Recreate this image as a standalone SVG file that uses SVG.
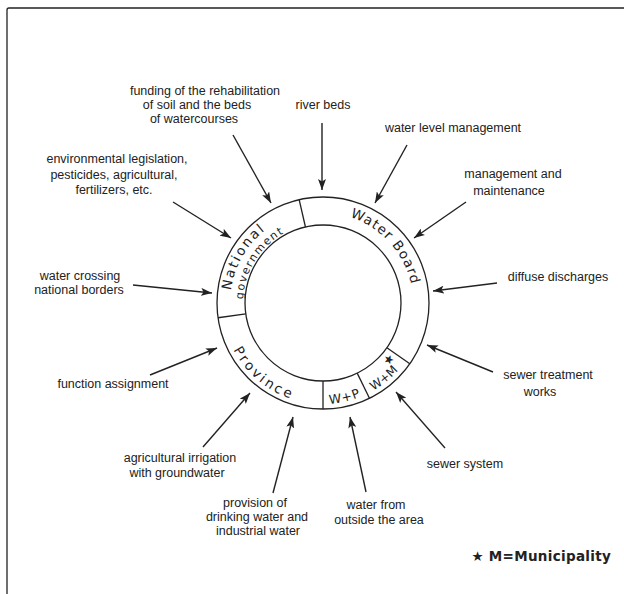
<svg xmlns="http://www.w3.org/2000/svg" width="624" height="594" viewBox="0 0 624 594">
<style>
.lbl{font-family:"Liberation Sans",Arial,sans-serif;font-size:12.5px;fill:#222;text-anchor:middle}
.ring{font-family:"DejaVu Sans","Liberation Sans",sans-serif;fill:#222}
.ln{stroke:#222;stroke-width:1.3;fill:none}
.arr{stroke:#222;stroke-width:1.4;fill:none;marker-end:url(#ah)}
</style>
<defs>
<marker id="ah" markerUnits="userSpaceOnUse" markerWidth="11" markerHeight="8" refX="11" refY="4" orient="auto">
<path d="M0,0 L11,4 L0,8 L2.5,4 z" fill="#222"/>
</marker>
<path id="pNat" d="M235.61,334.81 A93,93 0 0 1 306.85,211.41"/>
<path id="pGov" d="M247.82,330.36 A80,80 0 0 1 309.11,224.22"/>
<path id="pWB" d="M319.86,213.05 A90,90 0 0 1 412.13,315.53"/>
<path id="pProv" d="M222,303 A101,101 0 0 0 340.54,402.47"/>
<path id="pWP" d="M293.47,399.59 A101,101 0 0 0 391.88,376.87"/>
<path id="pWM" d="M338.80,402.76 A101,101 0 0 0 417.29,339.20"/>
</defs>
<rect width="624" height="594" fill="#fff"/>
<g id="frame">
<path class="ln" d="M7,594 L7,10 Q7,8 9,8 L624,8"/>
</g>
<g id="ring">
<circle class="ln" cx="323" cy="303" r="106"/>
<circle class="ln" cx="323" cy="303" r="78"/>
<line class="ln" x1="305.45" y1="227" x2="299.15" y2="199.71"/>
<line class="ln" x1="245.76" y1="313.86" x2="218.03" y2="317.75"/>
<line class="ln" x1="323" y1="381" x2="323" y2="409"/>
<line class="ln" x1="357.2" y1="373.11" x2="369.47" y2="398.27"/>
<line class="ln" x1="386.9" y1="347.74" x2="409.83" y2="363.8"/>
</g>
<g id="national-government">
<text class="ring" font-size="13.5" letter-spacing="2"><textPath href="#pNat" startOffset="50%" text-anchor="middle">National</textPath></text>
<text class="ring" font-size="11" letter-spacing="1.5"><textPath href="#pGov" startOffset="52%" text-anchor="middle">government</textPath></text>
</g>
<g id="water-board">
<text class="ring" font-size="13.5" letter-spacing="1.1"><textPath href="#pWB" startOffset="50%" text-anchor="middle">Water Board</textPath></text>
</g>
<g id="province">
<text class="ring" font-size="13.5" letter-spacing="2.7"><textPath href="#pProv" startOffset="50%" text-anchor="middle">Province</textPath></text>
</g>
<g id="w-p">
<text class="ring" font-size="12.5" letter-spacing="0.8"><textPath href="#pWP" startOffset="50%" text-anchor="middle">W+P</textPath></text>
</g>
<g id="w-m">
<text class="ring" font-size="12"><textPath href="#pWM" startOffset="50%" text-anchor="middle">W+M</textPath></text>
<text class="ring" font-size="12" text-anchor="middle" transform="translate(392,362) rotate(-51)">★</text>
</g>
<g id="connectors">
<line class="arr" x1="233" y1="135" x2="271" y2="203"/>
<line class="arr" x1="322" y1="123" x2="322" y2="190"/>
<line class="arr" x1="407" y1="145" x2="375" y2="203"/>
<line class="arr" x1="466" y1="202" x2="414" y2="238"/>
<line class="arr" x1="497" y1="283" x2="433" y2="291"/>
<line class="arr" x1="493" y1="372" x2="427" y2="345"/>
<line class="arr" x1="445" y1="448" x2="396" y2="392"/>
<line class="arr" x1="366" y1="492" x2="350" y2="417"/>
<line class="arr" x1="273" y1="493" x2="293" y2="417"/>
<line class="arr" x1="203" y1="447" x2="250" y2="393"/>
<line class="arr" x1="150" y1="375" x2="217" y2="348"/>
<line class="arr" x1="133" y1="285" x2="212" y2="293"/>
<line class="arr" x1="173" y1="202" x2="231" y2="238"/>
</g>
<g id="funding">
<text class="lbl" x="205" y="95">funding of the rehabilitation</text>
<text class="lbl" x="197" y="109">of soil  and the beds</text>
<text class="lbl" x="194" y="123">of watercourses</text>
</g>
<g id="river-beds"><text class="lbl" x="323" y="109">river beds</text></g>
<g id="water-level"><text class="lbl" x="453" y="132">water level management</text></g>
<g id="management">
<text class="lbl" x="513" y="178">management and</text>
<text class="lbl" x="509" y="195">maintenance</text>
</g>
<g id="environmental">
<text class="lbl" x="117" y="163">environmental legislation,</text>
<text class="lbl" x="114" y="179">pesticides, agricultural,</text>
<text class="lbl" x="114" y="194">fertilizers, etc.</text>
</g>
<g id="crossing">
<text class="lbl" x="80" y="280">water crossing</text>
<text class="lbl" x="79" y="294">national borders</text>
</g>
<g id="function"><text class="lbl" x="113" y="388">function assignment</text></g>
<g id="irrigation">
<text class="lbl" x="180" y="462">agricultural irrigation</text>
<text class="lbl" x="177" y="477">with groundwater</text>
</g>
<g id="provision">
<text class="lbl" x="255" y="507">provision of</text>
<text class="lbl" x="257" y="521">drinking water and</text>
<text class="lbl" x="258" y="535">industrial water</text>
</g>
<g id="outside">
<text class="lbl" x="376" y="509">water from</text>
<text class="lbl" x="379" y="524">outside the area</text>
</g>
<g id="sewer-system"><text class="lbl" x="465" y="468">sewer system</text></g>
<g id="diffuse"><text class="lbl" x="558" y="281">diffuse discharges</text></g>
<g id="sewer-treatment">
<text class="lbl" x="548" y="379">sewer treatment</text>
<text class="lbl" x="540" y="396">works</text>
</g>
<g id="legend">
<text class="ring" x="611" y="561" font-size="13.5" font-weight="bold" text-anchor="end" letter-spacing="0.3">★ M=Municipality</text>
</g>
</svg>
